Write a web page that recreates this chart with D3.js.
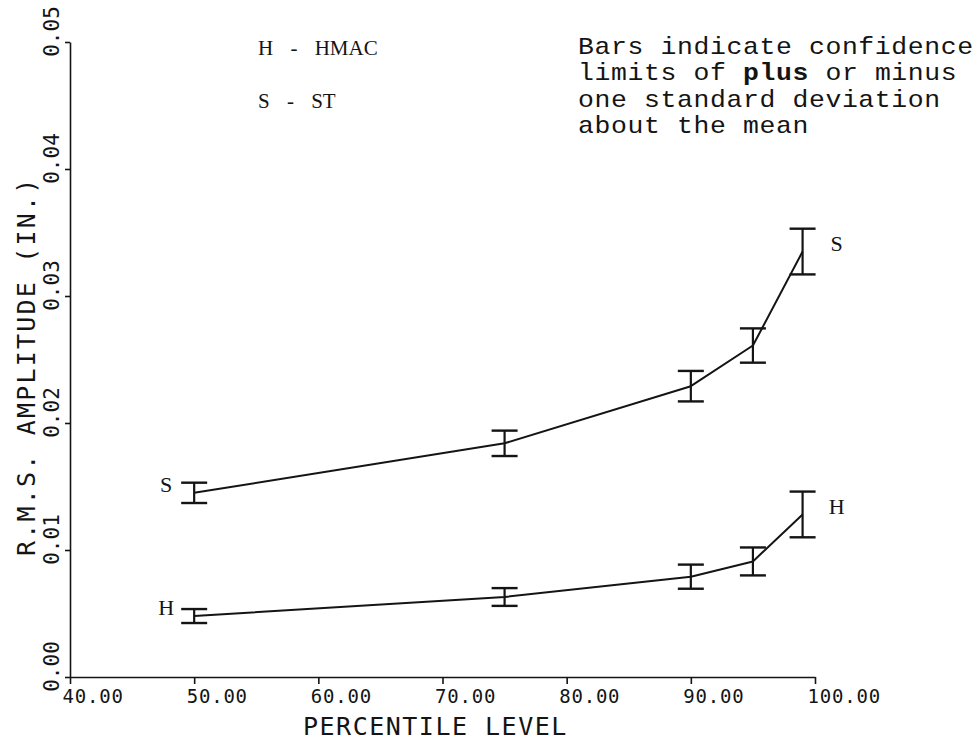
<!DOCTYPE html>
<html>
<head>
<meta charset="utf-8">
<script src="https://cdn.jsdelivr.net/npm/d3@7"></script>
<style>
  html, body { margin: 0; padding: 0; background: #fff; }
  svg { display: block; }
</style>
</head>
<body>
<svg id="chart" width="977" height="743"></svg>
<script>
// Percentile levels and RMS amplitude (in.) with one standard deviation
const percentiles = [50, 75, 90, 95, 99];
const stMean  = [0.0145, 0.0184, 0.0229, 0.0261, 0.0335];
const stSd    = [0.0008, 0.0010, 0.0012, 0.00135, 0.0018];
const hmacMean = [0.0048, 0.0063, 0.0079, 0.0091, 0.0128];
const hmacSd   = [0.00055, 0.0007, 0.00095, 0.0011, 0.0018];

const xTicks = [40, 50, 60, 70, 80, 90, 100];
const yTicks = [0, 0.01, 0.02, 0.03, 0.04, 0.05];

const seriesLabels = ["S", "H"];
const legendLines = ["H - HMAC", "S - ST"];
const noteLines = [
  ["Bars indicate confidence"],
  ["limits of ", "plus", " or minus"],
  ["one standard deviation"],
  ["about the mean"]
];

const svg = d3.select("#chart");
const ink = "#141414";

const x = d3.scaleLinear().domain([40, 100]).range([70, 815]);
const y = d3.scaleLinear().domain([0, 0.05]).range([677, 42]);

// X axis
const gx = svg.append("g")
  .attr("transform", `translate(0,${y(0)})`)
  .call(d3.axisBottom(x).tickValues(xTicks).tickFormat(d3.format(".2f"))
    .tickSize(7).tickSizeOuter(0));
gx.select(".domain").attr("stroke", ink).attr("stroke-width", 1.6);
gx.selectAll(".tick line").attr("stroke", ink).attr("stroke-width", 1.6);
gx.selectAll(".tick text")
  .attr("fill", ink)
  .attr("font-family", "DejaVu Sans Mono")
  .attr("font-size", 19)
  .attr("letter-spacing", 0.8)
  .attr("text-anchor", "start")
  .attr("x", -8)
  .attr("y", 13);

// Y axis
const gy = svg.append("g")
  .attr("transform", `translate(${x(40)},0)`)
  .call(d3.axisLeft(y).tickValues(yTicks).tickFormat(d3.format(".2f"))
    .tickSize(5).tickSizeOuter(0));
gy.select(".domain").attr("stroke", ink).attr("stroke-width", 1.6);
gy.selectAll(".tick line").attr("stroke", ink).attr("stroke-width", 1.6);
gy.selectAll(".tick text")
  .attr("fill", ink)
  .attr("font-family", "DejaVu Sans Mono")
  .attr("font-size", 21)
  .attr("text-anchor", "middle")
  .attr("x", 0)
  .attr("y", 0)
  .attr("dy", "0.35em")
  .attr("transform", "translate(-18,-11) rotate(-90)");

// Axis titles
svg.append("text")
  .attr("x", 303).attr("y", 735)
  .attr("font-family", "DejaVu Sans Mono")
  .attr("font-size", 25)
  .attr("letter-spacing", 1.5)
  .attr("fill", ink)
  .text("PERCENTILE LEVEL");

svg.append("text")
  .attr("transform", "translate(35,556) rotate(-90)")
  .attr("font-family", "DejaVu Sans Mono")
  .attr("font-size", 25)
  .attr("letter-spacing", 2.2)
  .attr("fill", ink)
  .text("R.M.S. AMPLITUDE (IN.)");

// Series: mean curve with error bars
const series = [
  { label: seriesLabels[0], mean: stMean, sd: stSd },
  { label: seriesLabels[1], mean: hmacMean, sd: hmacSd }
];

const line = d3.line()
  .x(d => x(d.p))
  .y(d => y(d.m));

const capHalf = 13;

series.forEach(s => {
  const pts = percentiles.map((p, i) => ({ p, m: s.mean[i], sd: s.sd[i] }));
  const g = svg.append("g");

  g.append("path")
    .datum(pts)
    .attr("d", line)
    .attr("fill", "none")
    .attr("stroke", ink)
    .attr("stroke-width", 2)
    .attr("stroke-linejoin", "round");

  const bars = g.selectAll(".bar").data(pts).join("g").attr("class", "bar");
  bars.append("line")
    .attr("x1", d => x(d.p)).attr("x2", d => x(d.p))
    .attr("y1", d => y(d.m - d.sd)).attr("y2", d => y(d.m + d.sd))
    .attr("stroke", ink).attr("stroke-width", 2.2);
  bars.append("line")
    .attr("x1", d => x(d.p) - capHalf).attr("x2", d => x(d.p) + capHalf)
    .attr("y1", d => y(d.m + d.sd)).attr("y2", d => y(d.m + d.sd))
    .attr("stroke", ink).attr("stroke-width", 2.4);
  bars.append("line")
    .attr("x1", d => x(d.p) - capHalf).attr("x2", d => x(d.p) + capHalf)
    .attr("y1", d => y(d.m - d.sd)).attr("y2", d => y(d.m - d.sd))
    .attr("stroke", ink).attr("stroke-width", 2.4);

  // Series letter at the left end and right end of each curve
  const first = pts[0], last = pts[pts.length - 1];
  g.append("text")
    .attr("x", x(first.p) - 28).attr("y", y(first.m) - 1)
    .attr("font-family", "Liberation Serif")
    .attr("font-size", 22)
    .attr("text-anchor", "middle")
    .attr("fill", ink)
    .text(s.label);
  g.append("text")
    .attr("x", x(last.p) + 34).attr("y", y(last.m + last.sd) + 22)
    .attr("font-family", "Liberation Serif")
    .attr("font-size", 22)
    .attr("text-anchor", "middle")
    .attr("fill", ink)
    .text(s.label);
});

// Legend
svg.selectAll(".legend")
  .data(legendLines)
  .join("text")
  .attr("class", "legend")
  .attr("x", 258)
  .attr("y", (d, i) => 55 + i * 53)
  .attr("font-family", "Liberation Serif")
  .attr("font-size", 21)
  .attr("word-spacing", 12)
  .attr("fill", ink)
  .attr("xml:space", "preserve")
  .text(d => d);

// Note on error bars, typewriter-style wide mono text
const note = svg.append("g")
  .attr("transform", "translate(578,0) scale(1.15,1)")
  .append("text")
  .attr("font-family", "Liberation Mono")
  .attr("font-size", 23)
  .attr("letter-spacing", 0.55)
  .attr("fill", ink);
noteLines.forEach((parts, i) => {
  const row = note.append("tspan").attr("x", 0).attr("y", 54 + i * 26.5);
  parts.forEach(t => {
    row.append("tspan")
      .attr("font-weight", t === "plus" ? "bold" : "normal")
      .text(t);
  });
});
</script>
</body>
</html>
